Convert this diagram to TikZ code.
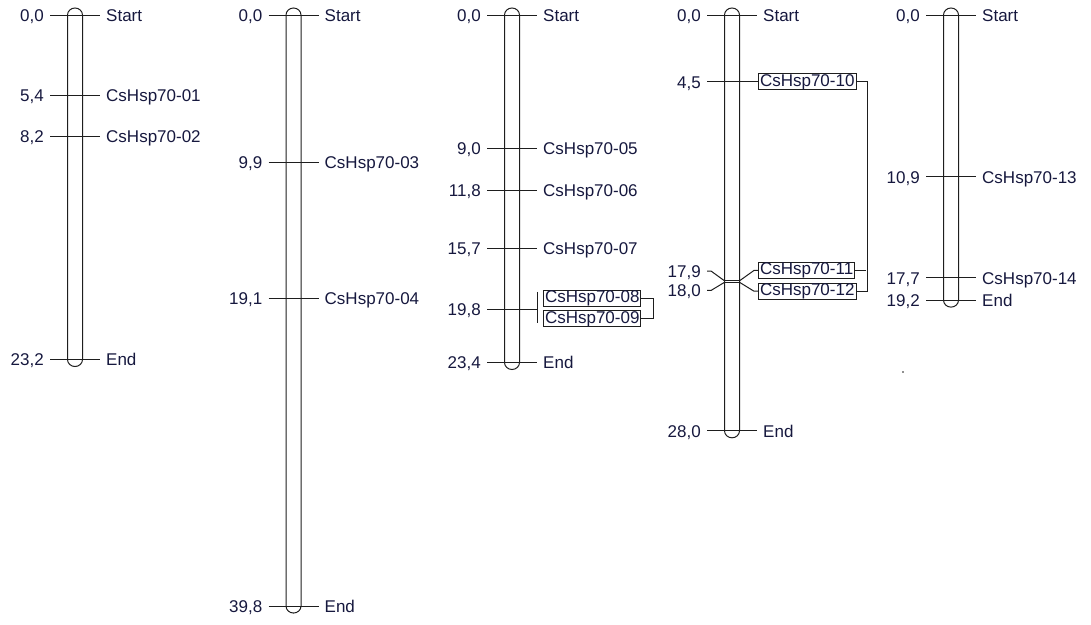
\documentclass[tikz,border=0pt]{standalone}
\usepackage{fontspec}
\setmainfont{Liberation Sans}
\definecolor{ink}{RGB}{22,24,62}
\definecolor{rule}{RGB}{30,30,30}
\usepackage{tikz}

\begin{document}
\begin{tikzpicture}[x=1pt,y=-14.85pt,
    chr/.style={line width=1pt, draw=rule},
    tick/.style={line width=1pt, draw=rule},
    num/.style={anchor=east, inner xsep=6pt, inner ysep=0pt, text height=12.4pt, text depth=0pt, text=ink, font=\fontsize{17}{20}\selectfont},
    gene/.style={anchor=west, inner xsep=6pt, inner ysep=0pt, text height=12.4pt, text depth=0pt, text=ink, font=\fontsize{17}{20}\selectfont},
    gbox/.style={draw=rule, line width=1pt, anchor=west, inner xsep=1.5pt, inner ysep=0pt, text height=12.4pt, text depth=3.6pt, text=ink, font=\fontsize{17}{20}\selectfont}]
    \useasboundingbox (0,-1.0101) rectangle (1091,41.0101);

    %% Chromosome 1
    \draw[chr] (67.5,0) -- (67.5,23.2) arc[start angle=180,end angle=360,x radius=7.5pt,y radius=7pt] -- (82.5,0) arc[start angle=0,end angle=180,x radius=7.5pt,y radius=7pt] -- cycle;
    \node[num] (a00) at (50,0) {0,0};
    \node[gene] (aS) at (100,0) {Start};
    \node[num] (a54) at (50,5.4) {5,4};
    \node[gene] (a01) at (100,5.4) {CsHsp70-01};
    \node[num] (a82) at (50,8.2) {8,2};
    \node[gene] (a02) at (100,8.2) {CsHsp70-02};
    \node[num] (a232) at (50,23.2) {23,2};
    \node[gene] (aE) at (100,23.2) {End};
    \draw[tick] (a00.east) -- (aS.west);
    \draw[tick] (a54.east) -- (a01.west);
    \draw[tick] (a82.east) -- (a02.west);
    \draw[tick] (a232.east) -- (aE.west);

    %% Chromosome 2
    \draw[chr] (286,0) -- (286,39.8) arc[start angle=180,end angle=360,x radius=7.5pt,y radius=7pt] -- (301,0) arc[start angle=0,end angle=180,x radius=7.5pt,y radius=7pt] -- cycle;
    \node[num] (b00) at (268.5,0) {0,0};
    \node[gene] (bS) at (318.5,0) {Start};
    \node[num] (b99) at (268.5,9.9) {9,9};
    \node[gene] (b03) at (318.5,9.9) {CsHsp70-03};
    \node[num] (b191) at (268.5,19.1) {19,1};
    \node[gene] (b04) at (318.5,19.1) {CsHsp70-04};
    \node[num] (b398) at (268.5,39.8) {39,8};
    \node[gene] (bE) at (318.5,39.8) {End};
    \draw[tick] (b00.east) -- (bS.west);
    \draw[tick] (b99.east) -- (b03.west);
    \draw[tick] (b191.east) -- (b04.west);
    \draw[tick] (b398.east) -- (bE.west);

    %% Chromosome 3
    \draw[chr] (504.5,0) -- (504.5,23.4) arc[start angle=180,end angle=360,x radius=7.5pt,y radius=7pt] -- (519.5,0) arc[start angle=0,end angle=180,x radius=7.5pt,y radius=7pt] -- cycle;
    \node[num] (c00) at (487,0) {0,0};
    \node[gene] (cS) at (537,0) {Start};
    \node[num] (c90) at (487,9.0) {9,0};
    \node[gene] (c05) at (537,9.0) {CsHsp70-05};
    \node[num] (c118) at (487,11.8) {11,8};
    \node[gene] (c06) at (537,11.8) {CsHsp70-06};
    \node[num] (c157) at (487,15.7) {15,7};
    \node[gene] (c07) at (537,15.7) {CsHsp70-07};
    \node[num] (c198) at (487,19.8) {19,8};
    \node[gbox] (c08) at (543,19.06) {CsHsp70-08};
    \node[gbox] (c09) at (543,20.47) {CsHsp70-09};
    \node[num] (c234) at (487,23.4) {23,4};
    \node[gene] (cE) at (537,23.4) {End};
    \coordinate (cj) at (537,19.8);
    \coordinate (cjt) at (537,18.65);
    \coordinate (cjb) at (537,20.74);
    \draw[tick] (c00.east) -- (cS.west);
    \draw[tick] (c90.east) -- (c05.west);
    \draw[tick] (c118.east) -- (c06.west);
    \draw[tick] (c157.east) -- (c07.west);
    \draw[tick] (c198.east) -- (cj);
    \draw[tick] (cjt) -- (cjb);
    \draw[tick] (c08.east) -- ++(12,0) |- (c09.east);
    \draw[tick] (c234.east) -- (cE.west);

    %% Chromosome 4
    \draw[chr] (724.5,0) -- (724.5,28.0) arc[start angle=180,end angle=360,x radius=7.5pt,y radius=7pt] -- (739.5,0) arc[start angle=0,end angle=180,x radius=7.5pt,y radius=7pt] -- cycle;
    \node[num] (d00) at (707,0) {0,0};
    \node[gene] (dS) at (757,0) {Start};
    \node[num] (d45) at (707,4.5) {4,5};
    \node[gbox] (d10) at (758,4.5) {CsHsp70-10};
    \node[num] (d179) at (707,17.24) {17,9};
    \node[num] (d180) at (707,18.55) {18,0};
    \node[gbox] (d11) at (758,17.2) {CsHsp70-11};
    \node[gbox] (d12) at (758,18.6) {CsHsp70-12};
    \node[num] (d280) at (707,28.0) {28,0};
    \node[gene] (dE) at (757,28.0) {End};
    \coordinate (dl179) at (724.5,17.9);
    \coordinate (dr179) at (739.5,17.9);
    \coordinate (dl180) at (724.5,18.0);
    \coordinate (dr180) at (739.5,18.0);
    \draw[tick] (d00.east) -- (dS.west);
    \draw[tick] (d45.east) -- (d10.west);
    \draw[tick] (dl179) -- (dr179);
    \draw[tick] (dl180) -- (dr180);
    \draw[tick] (d179.east) -- ++(4,0) -- (dl179);
    \draw[tick] (d180.east) -- ++(4,0) -- (dl180);
    \draw[tick] (dr179) -- ([xshift=-4pt]d11.west) -- (d11.west);
    \draw[tick] (dr180) -- ([xshift=-4pt]d12.west) -- (d12.west);
    \draw[tick] (d10.east) -- ++(11,0) |- (d12.east);
    \draw[tick] (d11.east) -- ++(11,0);
    \draw[tick] (d280.east) -- (dE.west);

    %% Chromosome 5
    \draw[chr] (943.5,0) -- (943.5,19.2) arc[start angle=180,end angle=360,x radius=7.5pt,y radius=7pt] -- (958.5,0) arc[start angle=0,end angle=180,x radius=7.5pt,y radius=7pt] -- cycle;
    \node[num] (e00) at (926,0) {0,0};
    \node[gene] (eS) at (976,0) {Start};
    \node[num] (e109) at (926,10.9) {10,9};
    \node[gene] (e13) at (976,10.9) {CsHsp70-13};
    \node[num] (e177) at (926,17.7) {17,7};
    \node[gene] (e14) at (976,17.7) {CsHsp70-14};
    \node[num] (e192) at (926,19.2) {19,2};
    \node[gene] (eE) at (976,19.2) {End};
    \draw[tick] (e00.east) -- (eS.west);
    \draw[tick] (e109.east) -- (e13.west);
    \draw[tick] (e177.east) -- (e14.west);
    \draw[tick] (e192.east) -- (eE.west);

    %% stray dot
    \fill[rule] (903,24.04) circle (0.8pt);
\end{tikzpicture}
\end{document}
